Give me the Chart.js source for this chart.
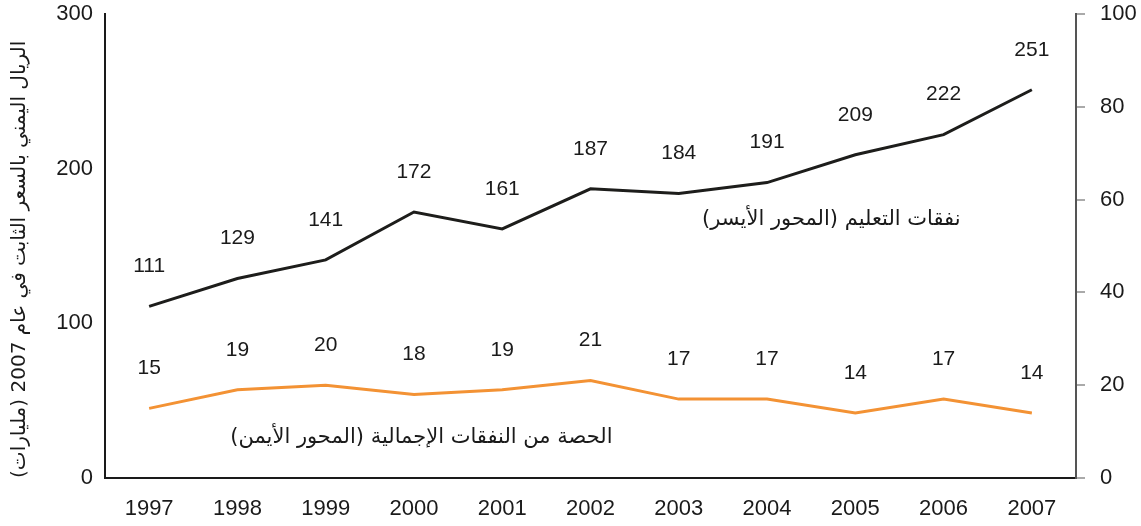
<!DOCTYPE html>
<html>
<head>
<meta charset="utf-8">
<script src="https://cdn.jsdelivr.net/npm/chart.js@4"></script>
<style>
  html, body { margin: 0; padding: 0; background: #fff; overflow: hidden; }
  canvas { display: block; }
</style>
</head>
<body>
<canvas id="chart" width="1141" height="526"></canvas>
<script>
const years = ["1997", "1998", "1999", "2000", "2001", "2002", "2003", "2004", "2005", "2006", "2007"]
const educationSpending = [111, 129, 141, 172, 161, 187, 184, 191, 209, 222, 251]
const shareOfTotal = [15, 19, 20, 18, 19, 21, 17, 17, 14, 17, 14]
const leftTitle = "الريال اليمني بالسعر الثابت في عام 2007 (مليارات)"
const educationLabel = "نفقات التعليم (المحور الأيسر)"
const shareLabel = "الحصة من النفقات الإجمالية (المحور الأيمن)"

const numFont = "'Liberation Sans', Arial, sans-serif"
const arFont = "'DejaVu Sans', sans-serif"

// value labels above each point + in-chart series names
const pointLabels = {
  id: "pointLabels",
  afterDatasetsDraw(chart) {
    const ctx = chart.ctx
    ctx.save()
    ctx.fillStyle = "#1a1a1a"
    ctx.font = "21px " + numFont
    ctx.textAlign = "center"
    ctx.textBaseline = "middle"
    chart.data.datasets.forEach((ds, i) => {
      chart.getDatasetMeta(i).data.forEach((pt, j) => {
        ctx.fillText(String(ds.data[j]), pt.x, pt.y - 40)
      })
    })

    const x = chart.scales.x
    ctx.font = "21px " + arFont
    ctx.textAlign = "right"
    ctx.direction = "rtl"
    ctx.fillText(educationLabel, x.getPixelForValue(9) + 17, chart.scales.y.getPixelForValue(167))
    ctx.fillText(shareLabel, x.getPixelForValue(5) + 22, chart.scales.y1.getPixelForValue(8.8))
    ctx.restore()
  },
}

new Chart(document.getElementById("chart"), {
  type: "line",
  data: {
    labels: years,
    datasets: [
      {
        label: educationLabel,
        data: educationSpending,
        borderColor: "#1d1d1b",
        borderWidth: 3,
        pointRadius: 0,
        tension: 0,
        yAxisID: "y",
      },
      {
        label: shareLabel,
        data: shareOfTotal,
        borderColor: "#f39234",
        borderWidth: 3,
        pointRadius: 0,
        tension: 0,
        yAxisID: "y1",
      },
    ],
  },
  options: {
    responsive: false,
    animation: false,
    layout: { padding: 0 },
    plugins: {
      legend: { display: false },
      tooltip: { enabled: false },
    },
    scales: {
      x: {
        offset: true,
        grid: { display: false, drawTicks: false },
        border: { color: "#1a1a1a", width: 2 },
        ticks: { color: "#1a1a1a", font: { family: numFont, size: 22 }, padding: 18 },
        afterFit: (s) => { s.height = 48; s.paddingLeft = 0; s.paddingRight = 0 },
      },
      y: {
        position: "left",
        min: 0,
        max: 300,
        grid: { display: false, drawTicks: false },
        border: { color: "#1a1a1a", width: 2 },
        ticks: { stepSize: 100, color: "#1a1a1a", font: { family: numFont, size: 22 }, padding: 12 },
        title: {
          display: true,
          text: leftTitle,
          align: "start",
          color: "#1a1a1a",
          font: { family: arFont, size: 20 },
          padding: { top: 8, bottom: 0 },
        },
        afterFit: (s) => { s.width = 105; s.paddingTop = 14; s.paddingBottom = 0 },
      },
      y1: {
        position: "right",
        min: 0,
        max: 100,
        grid: { drawOnChartArea: false, drawTicks: true, tickLength: 9, color: "#aaa", lineWidth: 2 },
        border: { color: "#555", width: 2 },
        ticks: { stepSize: 20, color: "#1a1a1a", font: { family: numFont, size: 22 }, padding: 15 },
        afterFit: (s) => { s.width = 65; s.paddingTop = 14; s.paddingBottom = 0 },
      },
    },
  },
  plugins: [pointLabels],
})
</script>
</body>
</html>
